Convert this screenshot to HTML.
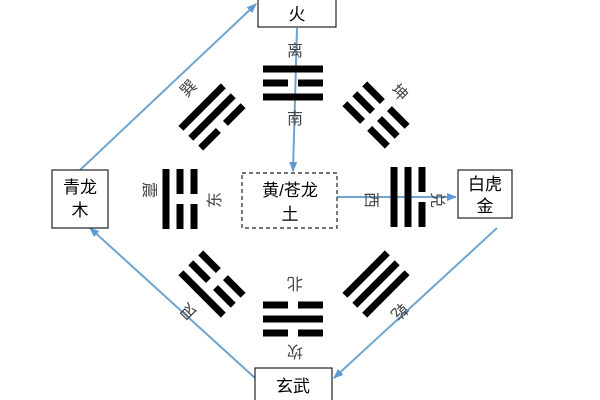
<!DOCTYPE html>
<html><head><meta charset="utf-8"><style>
html,body{margin:0;padding:0;background:#fff;width:600px;height:400px;overflow:hidden}
text{font-family:"Liberation Sans","Noto Sans CJK SC",sans-serif}
</style></head><body>
<svg width="600" height="400" viewBox="0 0 600 400" xmlns="http://www.w3.org/2000/svg">
<defs>
<marker id="a" markerWidth="10" markerHeight="8" refX="9" refY="4" orient="auto" markerUnits="userSpaceOnUse">
<path d="M0,0 L10,4 L0,8 z" fill="#5b9bd5"/></marker>
<g id="S"><rect x="-30" y="-3.5" width="60" height="7"/></g>
<g id="B"><rect x="-30" y="-3.5" width="25" height="7"/><rect x="5" y="-3.5" width="25" height="7"/></g>
</defs>
<g stroke="#6fa4cf" stroke-width="2" fill="none">
<line x1="80" y1="170" x2="256" y2="4" marker-end="url(#a)"/>
<line x1="297" y1="28" x2="293" y2="171" marker-end="url(#a)"/>
<line x1="337" y1="197" x2="456" y2="197" marker-end="url(#a)"/>
<line x1="497" y1="228" x2="334" y2="378" marker-end="url(#a)"/>
<line x1="255" y1="378" x2="90" y2="228" marker-end="url(#a)"/>
</g>
<g fill="#000">
<!-- top 离 -->
<g transform="translate(293,83)"><use href="#S" y="-14"/><use href="#B"/><use href="#S" y="14"/></g>
<!-- bottom 坎 -->
<g transform="translate(293,319) rotate(180)"><use href="#B" y="-14"/><use href="#S"/><use href="#B" y="14"/></g>
<!-- left 震 -->
<g transform="translate(180,199) rotate(-90)"><use href="#S" y="-14"/><use href="#B"/><use href="#B" y="14"/></g>
<!-- right 兑 -->
<g transform="translate(408,197) rotate(90)"><use href="#B" y="-14"/><use href="#S"/><use href="#S" y="14"/></g>
<!-- 巽 -->
<g transform="translate(212,117) rotate(-45)"><use href="#S" y="-14"/><use href="#S"/><use href="#B" y="14"/></g>
<!-- 坤 -->
<g transform="translate(376,115) rotate(45)"><use href="#B" y="-14"/><use href="#B"/><use href="#B" y="14"/></g>
<!-- 艮 -->
<g transform="translate(212,284) rotate(-135)"><use href="#S" y="-14"/><use href="#B"/><use href="#B" y="14"/></g>
<!-- 乾 -->
<g transform="translate(376,284) rotate(135)"><use href="#S" y="-14"/><use href="#S"/><use href="#S" y="14"/></g>
</g>
<g fill="#444" font-size="16" text-anchor="middle">
<text x="295" y="56">离</text>
<text x="295" y="124">南</text>
<text transform="translate(188,88) rotate(-45)" y="6">巽</text>
<text transform="translate(400,92) rotate(45)" y="6">坤</text>
<text transform="translate(150,190) rotate(90)" y="6">震</text>
<text transform="translate(214,200) rotate(-90)" y="6">东</text>
<text transform="translate(372,200) rotate(90)" y="6">西</text>
<text transform="translate(438,200) rotate(90)" y="6">兑</text>
<text transform="translate(295,284) rotate(180)" y="6">北</text>
<text transform="translate(295,352) rotate(180)" y="6">坎</text>
<text transform="translate(188,312) rotate(-135)" y="6">艮</text>
<text transform="translate(400,312) rotate(135)" y="6">乾</text>
</g>
<g fill="#fff" stroke="#222" stroke-width="1.2">
<rect x="258" y="-2" width="78" height="29"/>
<rect x="52" y="170" width="56" height="58"/>
<rect x="458" y="170" width="54" height="48"/>
<rect x="255" y="368" width="77" height="40"/>
<rect x="242" y="173" width="95" height="55" stroke-dasharray="4,3"/>
</g>
<g fill="#000" font-size="17" text-anchor="middle">
<text x="297" y="20">火</text>
<text x="80" y="193">青龙</text><text x="80" y="216">木</text>
<text x="485" y="190">白虎</text><text x="485" y="212">金</text>
<text x="293" y="392">玄武</text>
<text x="290" y="196">黄/苍龙</text><text x="290" y="220">土</text>
</g>
</svg>
</body></html>
